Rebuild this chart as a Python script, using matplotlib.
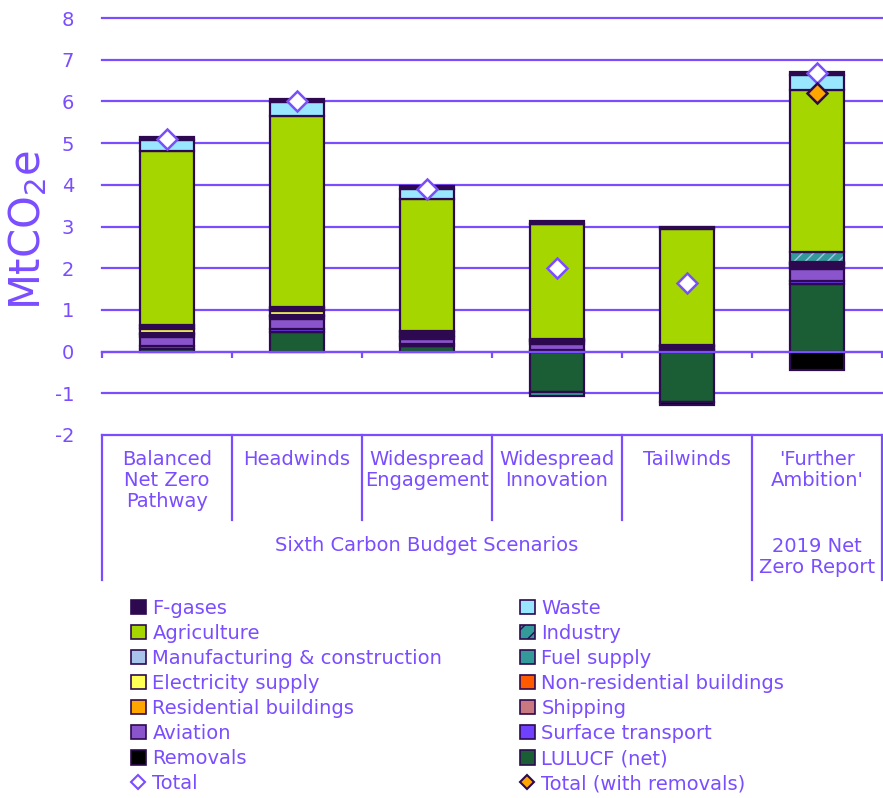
import numpy as np
import matplotlib
matplotlib.use('Agg')
import matplotlib.pyplot as plt
from matplotlib.patches import Patch
from matplotlib.lines import Line2D

plt.rcParams['font.family'] = ['DejaVu Sans']
plt.rcParams['axes.unicode_minus'] = False

# data (MtCO2e)
scenarios = ['Balanced\nNet Zero\nPathway', 'Headwinds', 'Widespread\nEngagement',
             'Widespread\nInnovation', 'Tailwinds', "'Further\nAmbition'"]

lulucf        = [0.07, 0.48, 0.14, -0.98, -1.20, 1.62]
removals      = [0.00, 0.00, 0.00, 0.00, -0.07, -0.43]
surface       = [0.06, 0.06, 0.05, 0.04, 0.03, 0.08]
aviation      = [0.22, 0.25, 0.12, 0.15, 0.04, 0.28]
shipping      = [0.05, 0.04, 0.04, 0.03, 0.03, 0.06]
residential   = [0.03, 0.03, 0.02, 0.02, 0.02, 0.04]
nonres        = [0.02, 0.02, 0.01, 0.01, 0.01, 0.01]
electricity   = [0.10, 0.09, 0.04, 0.02, 0.01, 0.02]
fuel_supply   = [0.01, 0.02, 0.01, -0.08, 0.01, 0.02]
manufacturing = [0.06, 0.05, 0.05, 0.02, 0.01, 0.02]
industry      = [0.02, 0.02, 0.02, 0.01, 0.01, 0.23]
agriculture   = [4.18, 4.58, 3.16, 2.75, 2.78, 3.90]
waste         = [0.25, 0.35, 0.24, 0.02, 0.01, 0.35]
fgases        = [0.07, 0.06, 0.08, 0.05, 0.04, 0.07]

total         = [5.10, 6.00, 3.90, 2.00, 1.65, 6.68]
total_removal = [np.nan, np.nan, np.nan, np.nan, np.nan, 6.20]

txt = '#7A4DFF'
edge = '#2D0A50'

# stacking order, bottom first
series = [
    ('LULUCF (net)', lulucf, '#1B5E35', None),
    ('Removals', removals, '#000000', None),
    ('Surface transport', surface, '#7040FF', None),
    ('Aviation', aviation, '#8A55CC', None),
    ('Shipping', shipping, '#C8787E', None),
    ('Residential buildings', residential, '#FFA500', None),
    ('Non-residential buildings', nonres, '#FF5A00', None),
    ('Electricity supply', electricity, '#FFFF55', None),
    ('Fuel supply', fuel_supply, '#339999', None),
    ('Manufacturing & construction', manufacturing, '#A9C4EB', None),
    ('Industry', industry, '#339999', '//'),
    ('Agriculture', agriculture, '#A6D600', None),
    ('Waste', waste, '#99E6FF', None),
    ('F-gases', fgases, '#2D0A50', None),
]
styles = {name: (col, h) for name, _, col, h in series}

fig = plt.figure(figsize=(8.83, 7.98), dpi=100)
ax = fig.add_axes([102 / 883, 1 - 435 / 798, 780 / 883, 417 / 798])

x = np.arange(len(scenarios)) + 0.5
w = 0.42
pos = np.zeros(len(x))
neg = np.zeros(len(x))
for name, vals, col, hatch in series:
    v = np.array(vals)
    base = np.where(v >= 0, pos, neg)
    if hatch:
        ax.bar(x, v, w, bottom=base, color=col, edgecolor='#A9C4EB', hatch='///', linewidth=0, zorder=2)
        ax.bar(x, v, w, bottom=base, facecolor='none', edgecolor=edge, linewidth=1.6, zorder=2)
    else:
        ax.bar(x, v, w, bottom=base, color=col, edgecolor=edge, linewidth=1.6, zorder=2)
    pos = np.where(v >= 0, pos + v, pos)
    neg = np.where(v < 0, neg + v, neg)

ax.plot(x, total, ls='none', marker='D', ms=10, mfc='white', mec=txt, mew=1.8, zorder=6)
ax.plot(x, total_removal, ls='none', marker='D', ms=10, mfc='#FFA500', mec=edge, mew=1.8, zorder=6)

ax.set_xlim(0, 6)
ax.set_ylim(-2, 8)
for yv in range(-2, 9):
    ax.axhline(yv, color=txt, lw=1.6, zorder=0.5, clip_on=False)
ax.set_yticks(range(-2, 9))
ax.tick_params(axis='y', length=0, pad=20, labelsize=14, labelcolor=txt)
for s in ['left', 'right', 'top']:
    ax.spines[s].set_visible(False)
ax.spines['bottom'].set_position(('data', 0))
ax.spines['bottom'].set_color(txt)
ax.spines['bottom'].set_linewidth(1.6)
ax.spines['bottom'].set_zorder(5)
ax.set_xticks(range(7))
ax.set_xticklabels([])
ax.tick_params(axis='x', direction='out', length=4, width=1.6, color=txt)
ax.set_ylabel('MtCO$_2$e', fontsize=30, color=txt)
ax.yaxis.set_label_coords(-0.068, 0.49)

# category table under the axis
tr = ax.get_xaxis_transform()
for i in range(7):
    bottom = -0.348 if i in (0, 5, 6) else -0.204
    ax.plot([i, i], [0, bottom], transform=tr, color=txt, lw=1.6, clip_on=False)
for xi, lab in zip(x, scenarios):
    ax.text(xi, -0.035, lab, transform=tr, ha='center', va='top', fontsize=14,
            color=txt, linespacing=1.15)
ax.text(2.5, -0.264, 'Sixth Carbon Budget Scenarios', transform=tr, ha='center',
        va='center', fontsize=14, color=txt)
ax.text(5.5, -0.293, '2019 Net\nZero Report', transform=tr, ha='center',
        va='center', fontsize=14, color=txt, linespacing=1.15)

# legend, two columns
def handle(name):
    col, h = styles[name]
    if h:
        return Patch(facecolor=col, edgecolor=edge, hatch='//', linewidth=1.2)
    return Patch(facecolor=col, edgecolor=edge, linewidth=1.2)

col1 = ['F-gases', 'Agriculture', 'Manufacturing & construction', 'Electricity supply',
        'Residential buildings', 'Aviation', 'Removals']
col2 = ['Waste', 'Industry', 'Fuel supply', 'Non-residential buildings',
        'Shipping', 'Surface transport', 'LULUCF (net)']
h1 = [handle(n) for n in col1] + [Line2D([], [], ls='none', marker='D', ms=7, mfc='white', mec=txt, mew=1.5)]
h2 = [handle(n) for n in col2] + [Line2D([], [], ls='none', marker='D', ms=7, mfc='#FFA500', mec=edge, mew=1.5)]
l1 = col1 + ['Total']
l2 = col2 + ['Total (with removals)']
for hs, ls, x0 in [(h1, l1, 131 / 883), (h2, l2, 520 / 883)]:
    fig.legend(hs, ls, loc='upper left', bbox_to_anchor=(x0, 1 - 599 / 798), frameon=False,
               fontsize=14, labelcolor=txt, handlelength=0.75, handleheight=0.75,
               handletextpad=0.35, labelspacing=0.31, borderpad=0, borderaxespad=0)

fig.savefig('out.png', dpi=100)
